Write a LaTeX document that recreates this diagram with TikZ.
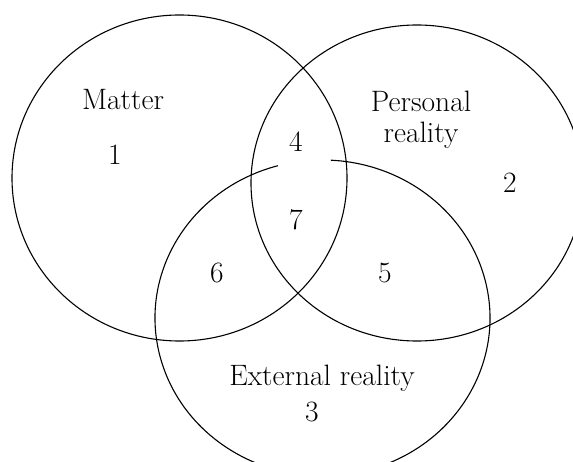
\documentclass[tikz,border=0pt]{standalone}
\begin{document}
\begin{tikzpicture}[x=1pt,y=1pt,
  ring/.style={line width=1.1pt},
  lbl/.style={inner sep=0pt,font=\fontsize{29.5}{31}\selectfont,align=center}]
\clip (0,0) rectangle (573,461);
\useasboundingbox (0,0) rectangle (573,461);
% circles
\draw[ring] (179.5,283) ellipse [x radius=167.5, y radius=163];
\draw[ring] (417,278) ellipse [x radius=166, y radius=158];
\draw[ring] (322.5,143) ++(105.4:167.5 and 158) arc [start angle=105.4, end angle=447.1, x radius=167.5, y radius=158];
% labels
\node[lbl] (matter) at (123,361) {Matter};
\node[lbl] (n1) at (115,306) {1};
\node[lbl] (personal) at (421,341) {Personal\\reality};
\node[lbl] (n4) at (296,319) {4};
\node[lbl] (n2) at (510,278) {2};
\node[lbl] (n7) at (296,241) {7};
\node[lbl] (n6) at (217,188) {6};
\node[lbl] (n5) at (385,188) {5};
\node[lbl] (external) at (322,83) {External reality};
\node[lbl] (n3) at (312,49) {3};
\end{tikzpicture}
\end{document}
